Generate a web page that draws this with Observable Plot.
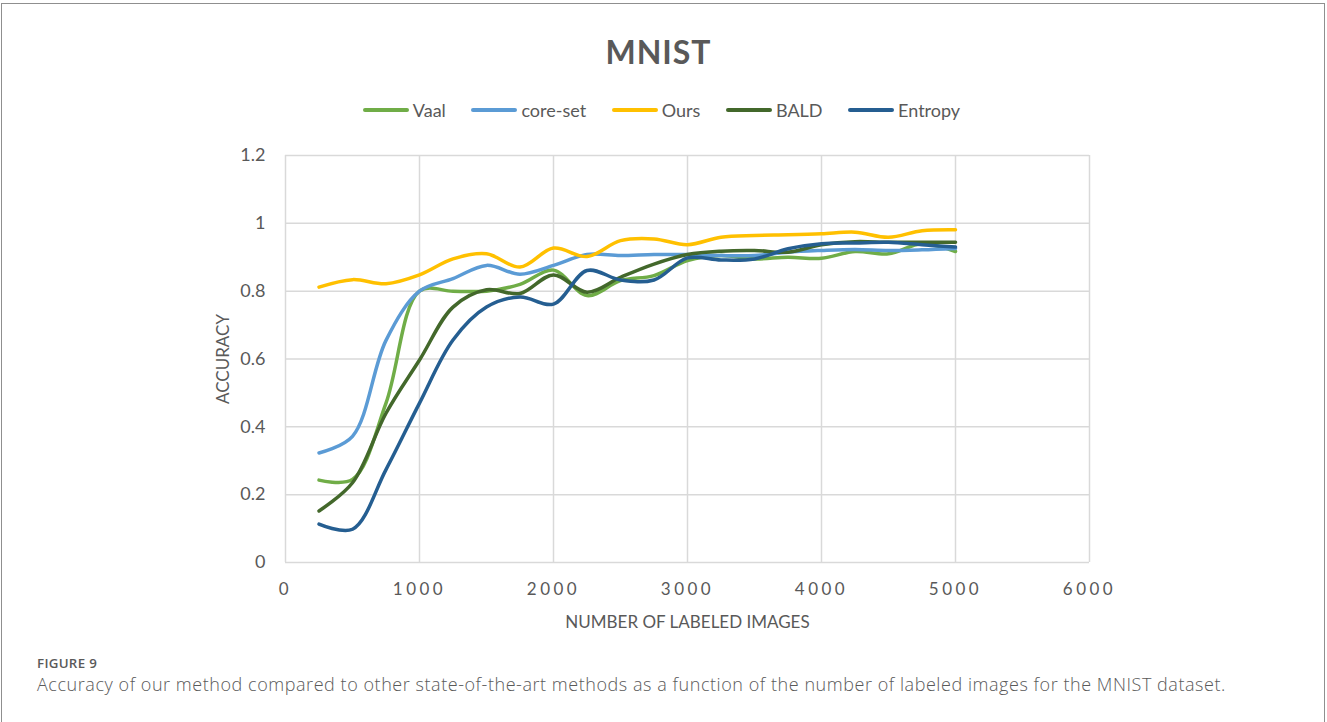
<!DOCTYPE html>
<html>
<head>
<meta charset="utf-8">
<script src="https://cdn.jsdelivr.net/npm/d3@7"></script>
<script src="https://cdn.jsdelivr.net/npm/@observablehq/plot@0.6"></script>
<style>
  html, body { margin: 0; padding: 0; background: #fff; }
  #wrap { position: relative; width: 1327px; height: 722px; overflow: hidden; font-family: Lato, "Open Sans", sans-serif; }
  #border { position: absolute; left: 1px; top: 3px; width: 1322px; height: 760px; border: 1.5px solid #8f8f8f; border-bottom: none; }
  #title { position: absolute; left: 0; top: 29px; width: 1317px; text-align: center; font-size: 32px; font-weight: bold; color: #595959; line-height: 46px; letter-spacing: 1px; }
  #legend { position: absolute; left: 0; top: 98px; width: 1323px; height: 24px; display: flex; justify-content: center; align-items: center; font-size: 18px; color: #595959; }
  .item { display: flex; align-items: center; margin: 0 12.8px; }
  .swatch { width: 46px; height: 4px; border-radius: 2px; margin-right: 4px; }
  #chart { position: absolute; left: 0; top: 140px; }
  #chart svg [aria-label="x-axis tick label"] text { letter-spacing: 3.5px; }
  #fig { position: absolute; left: 37px; top: 654px; font-family: "Open Sans", sans-serif; font-size: 13.3px; color: #5a5a5a; font-weight: 600; letter-spacing: 0.3px; }
  #cap { position: absolute; left: 37px; top: 672px; font-family: "Open Sans", sans-serif; font-size: 18px; letter-spacing: 0.55px; color: #5a5a5a; font-weight: 300; white-space: nowrap; }
</style>
</head>
<body>
<div id="wrap">
  <div id="border"></div>
  <div id="title">MNIST</div>
  <div id="legend"></div>
  <div id="chart"></div>
  <div id="fig">FIGURE 9</div>
  <div id="cap">Accuracy of our method compared to other state-of-the-art methods as a function of the number of labeled images for the MNIST dataset.</div>
</div>
<script>
// ---- data ----
const labeledImages = [250, 500, 750, 1000, 1250, 1500, 1750, 2000, 2250, 2500, 2750, 3000, 3250, 3500, 3750, 4000, 4250, 4500, 4750, 5000];
const seriesNames = ["Vaal", "core-set", "Ours", "BALD", "Entropy"];
const seriesColors = ["#70AD47", "#5B9BD5", "#FFC000", "#43682B", "#255E91"];
const vaal    = [0.243, 0.245, 0.47, 0.80, 0.80, 0.80, 0.82, 0.862, 0.787, 0.831, 0.846, 0.89, 0.905, 0.895, 0.90, 0.897, 0.917, 0.91, 0.94, 0.917];
const coreSet = [0.323, 0.372, 0.655, 0.80, 0.837, 0.876, 0.85, 0.876, 0.908, 0.905, 0.908, 0.908, 0.905, 0.905, 0.915, 0.92, 0.923, 0.92, 0.922, 0.926];
const ours    = [0.812, 0.834, 0.822, 0.848, 0.895, 0.91, 0.871, 0.927, 0.902, 0.949, 0.954, 0.937, 0.959, 0.964, 0.966, 0.969, 0.974, 0.959, 0.978, 0.981];
const bald    = [0.152, 0.235, 0.44, 0.597, 0.753, 0.804, 0.793, 0.848, 0.797, 0.841, 0.88, 0.908, 0.918, 0.92, 0.915, 0.937, 0.946, 0.944, 0.944, 0.944];
const entropy = [0.113, 0.098, 0.274, 0.47, 0.656, 0.753, 0.783, 0.762, 0.861, 0.833, 0.833, 0.898, 0.892, 0.895, 0.925, 0.94, 0.942, 0.944, 0.937, 0.93];
const xTicks = [0, 1000, 2000, 3000, 4000, 5000, 6000];
const yTicks = [0, 0.2, 0.4, 0.6, 0.8, 1, 1.2];
const yTickLabels = ["0", "0.2", "0.4", "0.6", "0.8", "1", "1.2"];

const seriesValues = [vaal, coreSet, ours, bald, entropy];
const rows = [];
seriesNames.forEach((name, i) => {
  seriesValues[i].forEach((v, j) => rows.push({series: name, x: labeledImages[j], y: v}));
});

// legend
const legend = document.getElementById("legend");
seriesNames.forEach((name, i) => {
  const item = document.createElement("div");
  item.className = "item";
  const sw = document.createElement("div");
  sw.className = "swatch";
  sw.style.background = seriesColors[i];
  const lab = document.createElement("span");
  lab.textContent = name;
  item.appendChild(sw);
  item.appendChild(lab);
  legend.appendChild(item);
});

const textColor = "#595959";
const chart = Plot.plot({
  width: 1327,
  height: 500,
  marginLeft: 285,
  marginRight: 238,
  marginTop: 15,
  marginBottom: 78,
  style: {fontFamily: "Lato, 'Open Sans', sans-serif", color: textColor, background: "transparent", overflow: "visible"},
  x: {domain: [0, 6000]},
  y: {domain: [0, 1.2]},
  color: {domain: seriesNames, range: seriesColors},
  marks: [
    Plot.gridX(xTicks, {stroke: "#d9d9d9", strokeOpacity: 1, strokeWidth: 1.5}),
    Plot.gridY(yTicks, {stroke: "#d9d9d9", strokeOpacity: 1, strokeWidth: 1.5}),
    Plot.axisX(xTicks, {tickSize: 0, tickPadding: 20, fontSize: 17, fill: textColor, label: null, tickFormat: d => String(d)}),
    Plot.axisY(yTicks, {tickSize: 0, tickPadding: 20, fontSize: 18, fill: textColor, label: null, tickFormat: (d, i) => yTickLabels[i]}),
    Plot.text(["ACCURACY"], {frameAnchor: "left", textAnchor: "middle", lineAnchor: "middle", rotate: -90, dx: -62, fontSize: 17, fill: textColor, text: d => d}),
    Plot.text(["NUMBER OF LABELED IMAGES"], {frameAnchor: "bottom", textAnchor: "middle", lineAnchor: "middle", dy: 60, fontSize: 17, fill: textColor, text: d => d}),
    Plot.line(rows, {x: "x", y: "y", z: "series", stroke: "series", curve: "catmull-rom", strokeWidth: 3.5, strokeLinecap: "round", strokeLinejoin: "round"})
  ]
});
document.getElementById("chart").appendChild(chart);
</script>
</body>
</html>
